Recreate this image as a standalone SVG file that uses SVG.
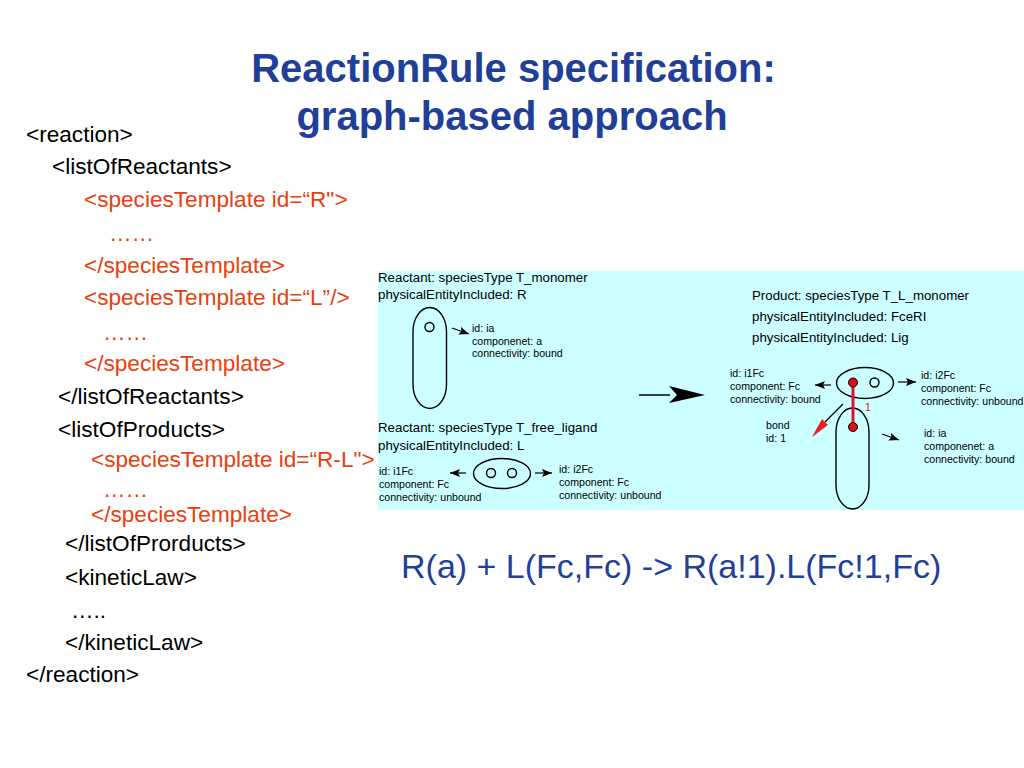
<svg xmlns="http://www.w3.org/2000/svg" width="1024" height="768" viewBox="0 0 1024 768">
<style>
text{font-family:"Liberation Sans",Arial,sans-serif}
.t{font-size:40px;font-weight:bold;fill:#1f3f99;text-anchor:middle}
.x{font-size:22.600px;fill:#000}
.r{font-size:22.600px;fill:#e8400f}
.h{font-size:13.300px;fill:#000}
.s{font-size:10.600px;fill:#000}
.o{fill:none;stroke:#000;stroke-width:1.400}
.c{stroke:#000;stroke-width:1.200;fill:none;marker-end:url(#a)}
</style>
<defs>
<marker id="a" markerUnits="userSpaceOnUse" markerWidth="11" markerHeight="8" refX="10" refY="4" orient="auto"><path d="M0 0L10 4L0 8L2 4Z" fill="#000"/></marker>
</defs>
<rect width="1024" height="768" fill="#fff"/>
<g id="title">
<text class="t" x="513.500" y="82">ReactionRule specification:</text>
<text class="t" x="512" y="130">graph-based approach</text>
</g>
<g id="xml">
<text class="x" x="26" y="142">&lt;reaction&gt;</text>
<text class="x" x="52" y="174">&lt;listOfReactants&gt;</text>
<text class="r" x="84" y="207">&lt;speciesTemplate id=“R"&gt;</text>
<text class="r" x="109" y="241">……</text>
<text class="r" x="84" y="273">&lt;/speciesTemplate&gt;</text>
<text class="r" x="84" y="305">&lt;speciesTemplate id=“L”/&gt;</text>
<text class="r" x="103" y="340">……</text>
<text class="r" x="84" y="371">&lt;/speciesTemplate&gt;</text>
<text class="x" x="58" y="404">&lt;/listOfReactants&gt;</text>
<text class="x" x="58" y="437">&lt;listOfProducts&gt;</text>
<text class="r" x="91" y="467">&lt;speciesTemplate id=“R-L"&gt;</text>
<text class="r" x="103" y="497">……</text>
<text class="r" x="91" y="522">&lt;/speciesTemplate&gt;</text>
<text class="x" x="65" y="551">&lt;/listOfProrducts&gt;</text>
<text class="x" x="65" y="585">&lt;kineticLaw&gt;</text>
<text class="x" x="71" y="618">…..</text>
<text class="x" x="65" y="650">&lt;/kineticLaw&gt;</text>
<text class="x" x="26" y="682">&lt;/reaction&gt;</text>
</g>
<rect id="panel" x="378" y="271" width="646" height="239" fill="#ccffff"/>
<g id="reactant-r">
<text class="h" x="378" y="282">Reactant: speciesType T_monomer</text>
<text class="h" x="378" y="299">physicalEntityIncluded: R</text>
<rect class="o" x="413" y="307.500" width="33.500" height="101" rx="16.750" ry="24"/>
<circle class="o" cx="429.500" cy="327" r="4.500"/>
<text class="s" x="472" y="332">id: ia</text>
<text class="s" x="472" y="345">componenet: a</text>
<text class="s" x="472" y="357">connectivity: bound</text>
</g>
<g id="reactant-l">
<text class="h" x="378" y="432">Reactant: speciesType T_free_ligand</text>
<text class="h" x="378" y="450">physicalEntityIncluded: L</text>
<ellipse class="o" cx="502" cy="473.500" rx="28.500" ry="15"/>
<circle class="o" cx="491" cy="473" r="4.500"/>
<circle class="o" cx="512" cy="473" r="4.500"/>
<text class="s" x="379" y="475">id: i1Fc</text>
<text class="s" x="379" y="488">component: Fc</text>
<text class="s" x="379" y="501">connectivity: unbound</text>
<text class="s" x="559" y="473">id: i2Fc</text>
<text class="s" x="559" y="486">component: Fc</text>
<text class="s" x="559" y="499">connectivity: unbound</text>
</g>
<g id="product">
<text class="h" x="752" y="300">Product: speciesType T_L_monomer</text>
<text class="h" x="752" y="321">physicalEntityIncluded: FceRI</text>
<text class="h" x="752" y="342">physicalEntityIncluded: Lig</text>
<ellipse class="o" cx="865" cy="383" rx="28.500" ry="15.500"/>
<rect class="o" x="836" y="408" width="33" height="101" rx="16.500" ry="24"/>
<circle class="o" cx="874.500" cy="382.500" r="4.500"/>
<line x1="853" y1="382" x2="853" y2="427" stroke="#dc143c" stroke-width="3"/>
<circle cx="853" cy="382.500" r="4.500" fill="#e01010" stroke="#000" stroke-width="1"/>
<circle cx="853" cy="427" r="4.500" fill="#e01010" stroke="#000" stroke-width="1"/>
<text x="865" y="411" font-size="10.500" fill="#e01010">1</text>
<text class="s" x="730" y="377">id: i1Fc</text>
<text class="s" x="730" y="390">component: Fc</text>
<text class="s" x="730" y="403">connectivity: bound</text>
<text class="s" x="921" y="379">id: i2Fc</text>
<text class="s" x="921" y="392">component: Fc</text>
<text class="s" x="921" y="405">connectivity: unbound</text>
<text class="s" x="766" y="429">bond</text>
<text class="s" x="766" y="442">id: 1</text>
<text class="s" x="924" y="437">id: ia</text>
<text class="s" x="924" y="450">componenet: a</text>
<text class="s" x="924" y="463">connectivity: bound</text>
</g>
<g id="connectors">
<line class="c" x1="452" y1="328" x2="469" y2="334"/>
<line class="c" x1="466" y1="473" x2="450" y2="473"/>
<line class="c" x1="535" y1="473" x2="552" y2="473"/>
<line class="c" x1="831" y1="385" x2="815" y2="385"/>
<line class="c" x1="898" y1="382" x2="916" y2="382"/>
<line class="c" x1="882" y1="434" x2="899" y2="440"/>
<line x1="639" y1="395" x2="670" y2="395" stroke="#000" stroke-width="1.500"/>
<path d="M669 386L705 395L669 403L677 395Z" fill="#000"/>
<line x1="843" y1="404" x2="825" y2="422" stroke="#000" stroke-width="1.300"/>
<path d="M812 437L822 419L828 425Z" fill="#e82020"/>
</g>
<text id="formula" x="401" y="578" font-size="34" fill="#1f3f99">R(a) + L(Fc,Fc) -&gt; R(a!1).L(Fc!1,Fc)</text>
</svg>
